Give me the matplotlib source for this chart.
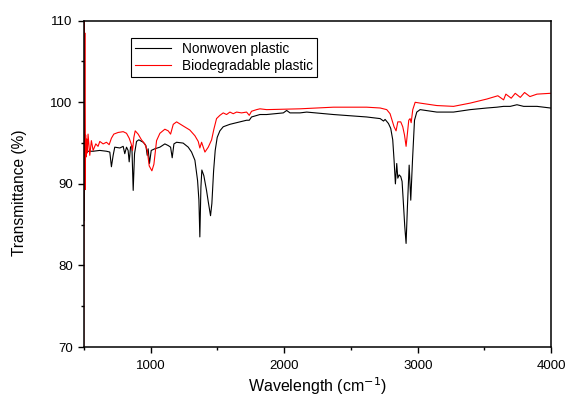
import matplotlib
matplotlib.use("Agg")
import matplotlib.pyplot as plt
from matplotlib.ticker import MultipleLocator

plt.rcParams['font.family'] = ['Liberation Sans', 'DejaVu Sans']

# FTIR spectra
nonwoven_wn = [503, 507, 532, 570, 620, 670, 695, 707, 720, 732, 770, 795, 807, 820, 832,
               840, 850, 860, 870, 880, 895, 912, 945, 965, 975, 982, 992, 1005, 1032,
               1070, 1107, 1132, 1150, 1162, 1175, 1195, 1244, 1282, 1307, 1332, 1352,
               1362, 1369, 1377, 1384, 1399, 1419, 1434, 1449, 1459, 1472, 1484, 1499,
               1519, 1544, 1594, 1669, 1719, 1739, 1756, 1819, 1869, 1994, 2019, 2044,
               2119, 2169, 2369, 2618, 2719, 2744, 2756, 2781, 2798, 2813, 2823, 2833,
               2843, 2851, 2861, 2873, 2883, 2893, 2903, 2913, 2923, 2936, 2948, 2961,
               2976, 2993, 3018, 3143, 3268, 3393, 3518, 3593, 3643, 3693, 3743, 3793,
               3893, 3993]
nonwoven_t = [85.5, 93.5, 94.0, 94.0, 94.1, 94.0, 93.9, 92.1, 93.5, 94.5, 94.4, 94.6, 93.7,
              94.5, 94.1, 92.7, 94.5, 94.7, 89.2, 93.7, 95.2, 95.4, 95.1, 94.7, 93.5, 94.3,
              92.5, 94.1, 94.3, 94.5, 94.9, 94.7, 94.5, 93.2, 94.9, 95.1, 95.0, 94.5, 93.9,
              92.9, 90.4, 88.0, 83.5, 89.6, 91.7, 91.0, 89.2, 87.6, 86.1, 87.6, 91.6, 94.1,
              95.7, 96.5, 97.0, 97.3, 97.6, 97.8, 97.8, 98.2, 98.5, 98.5, 98.7, 99.0, 98.7,
              98.7, 98.8, 98.5, 98.2, 98.0, 97.7, 97.9, 97.4, 96.8, 95.4, 92.9, 90.0, 92.5,
              90.7, 91.1, 90.9, 90.3, 87.6, 84.8, 82.7, 87.2, 92.3, 88.0, 92.9, 97.8, 98.8,
              99.1, 98.8, 98.8, 99.1, 99.3, 99.4, 99.5, 99.5, 99.7, 99.5, 99.5, 99.3]

biodeg_wn = [500, 503, 506, 508, 511, 514, 518, 522, 527, 532, 545, 557, 570, 590, 607,
             620, 645, 670, 690, 707, 725, 757, 795, 820, 840, 855, 865, 875, 885, 907,
             932, 957, 975, 990, 1010, 1025, 1045, 1070, 1107, 1132, 1150, 1170, 1195,
             1244, 1294, 1332, 1357, 1369, 1382, 1407, 1432, 1457, 1474, 1494, 1519,
             1544, 1569, 1594, 1619, 1644, 1681, 1719, 1739, 1756, 1794, 1819, 1869,
             2119, 2369, 2618, 2719, 2768, 2793, 2808, 2823, 2838, 2851, 2873, 2888,
             2901, 2913, 2923, 2933, 2943, 2951, 2963, 2981, 3018, 3143, 3268, 3393,
             3518, 3600, 3643, 3660, 3700, 3730, 3768, 3800, 3840, 3893, 3993]
biodeg_t = [70.0, 110.5, 95.0, 108.5, 89.3, 96.0, 93.3, 95.5, 93.8, 96.1, 93.5, 95.3, 94.1,
            94.9, 94.6, 95.2, 94.9, 95.1, 94.8, 95.6, 96.1, 96.3, 96.4, 96.2, 95.6, 94.9,
            94.1, 95.7, 96.5, 96.1, 95.4, 94.9, 94.1, 92.2, 91.6, 92.4, 95.3, 96.2, 96.7,
            96.5, 96.1, 97.3, 97.6, 97.1, 96.6, 95.9, 95.2, 94.4, 95.1, 93.9, 94.5, 95.4,
            96.7, 98.0, 98.4, 98.7, 98.5, 98.8, 98.6, 98.8, 98.7, 98.8, 98.4, 98.9, 99.1,
            99.2, 99.1, 99.2, 99.4, 99.4, 99.3, 99.1, 98.6, 97.8, 97.0, 96.5, 97.6, 97.6,
            97.0, 96.0, 94.6, 96.2, 97.8, 98.0, 97.5, 99.1, 100.0, 99.9, 99.6, 99.5, 99.9,
            100.4, 100.8, 100.3, 101.0, 100.5, 101.1, 100.6, 101.2, 100.7, 101.0, 101.1]

fig = plt.figure(figsize=(5.66, 3.98), dpi=100)
ax = fig.add_axes([0.148, 0.128, 0.826, 0.82])

ax.plot(nonwoven_wn, nonwoven_t, color="black", lw=0.8, label="Nonwoven plastic")
ax.plot(biodeg_wn, biodeg_t, color="red", lw=0.8, label="Biodegradable plastic")

ax.set_xlim(500, 4000)
ax.set_ylim(70, 110)
ax.xaxis.set_major_locator(MultipleLocator(1000))
ax.xaxis.set_minor_locator(MultipleLocator(500))
ax.yaxis.set_major_locator(MultipleLocator(10))
ax.yaxis.set_minor_locator(MultipleLocator(5))
ax.tick_params(which="both", direction="out", labelsize=9.5, width=1.0)
ax.tick_params(which="major", length=4)
ax.tick_params(which="minor", length=2.2)
ax.tick_params(axis="x", which="major", pad=5.5)
ax.tick_params(axis="y", which="major", pad=4)
for s in ax.spines.values():
    s.set_linewidth(1.1)

ax.set_xlabel("Wavelength (cm$^{-1}$)", fontsize=11.5)
ax.xaxis.set_label_coords(0.5, -0.088)
ax.set_ylabel("Transmittance (%)", fontsize=11.2)
ax.yaxis.set_label_coords(-0.122, 0.472)

leg = ax.legend(loc="upper left", bbox_to_anchor=(0.1, 0.948), borderaxespad=0,
                fontsize=9.8, handlelength=2.7, fancybox=False, framealpha=1,
                edgecolor="black", borderpad=0.3, labelspacing=0.25)
leg.get_frame().set_linewidth(0.8)

fig.savefig("out.png", dpi=100)
